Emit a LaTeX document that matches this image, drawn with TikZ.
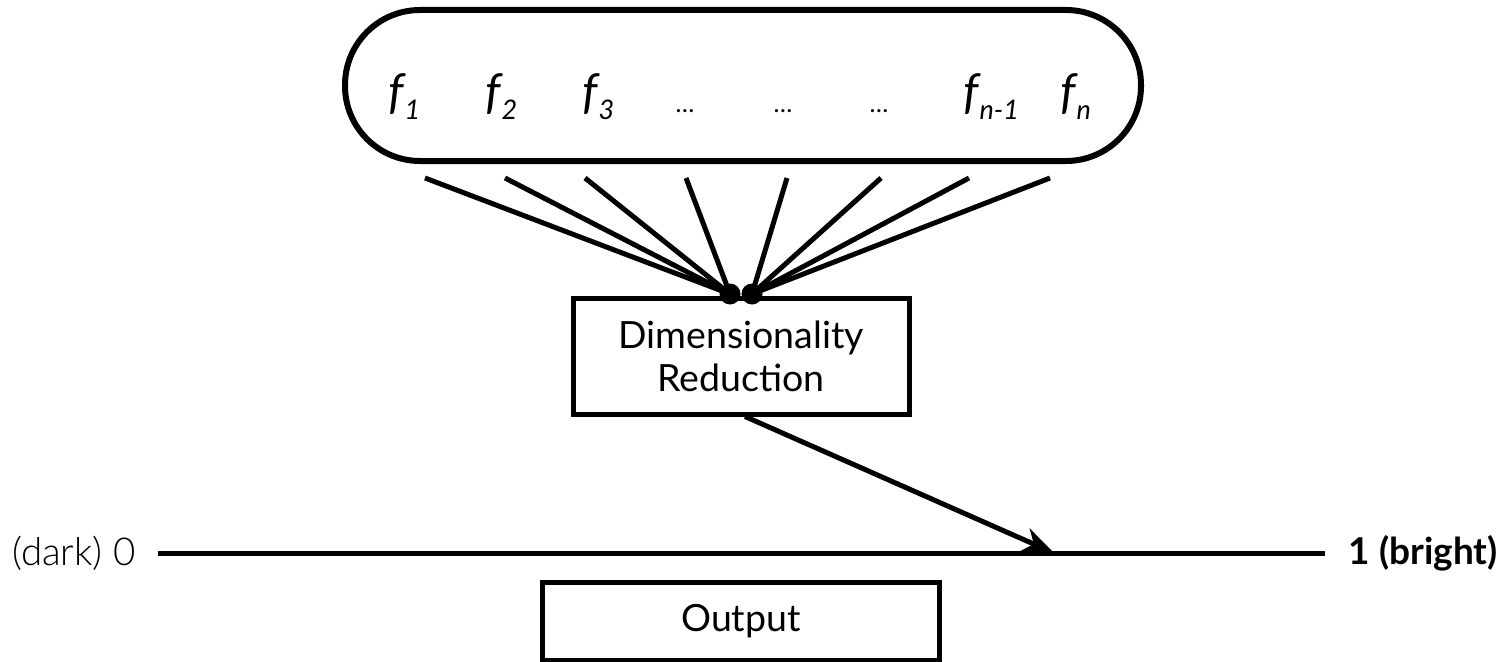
\documentclass[tikz,border=0pt]{standalone}
\usepackage{fontspec}
\setmainfont{Lato}
\newfontfamily\lightfont{Lato Light}
\usetikzlibrary{arrows.meta}
\newcommand\featlabel[2]{f\kern1pt\raisebox{-11pt}{\fontsize{27}{27}\selectfont #2}}
\tikzset{
  wire/.style={line width=5pt},
  box/.style={draw, line width=5pt, rectangle, align=center, inner sep=0pt},
  feat/.style={font=\fontsize{48}{52}\selectfont\itshape, inner sep=0pt, anchor=base west},
  gap/.style={font=\fontsize{25}{25}\selectfont, inner sep=0pt, anchor=base},
  hub/.style={circle, fill=black, inner sep=0pt, minimum size=21pt},
  label/.style={font=\fontsize{37.5}{43}\selectfont},
}
\begin{document}
\begin{tikzpicture}[x=1pt,y=-1pt]
\useasboundingbox (0,0) rectangle (1503,661);
% feature container
\draw[line width=6pt, rounded corners=75pt] (345,10) rectangle (1141,161);
\node[feat] (f1) at (388,108) {\featlabel{f}{1}};
\node[feat] (f2) at (485,108) {\featlabel{f}{2}};
\node[feat] (f3) at (582,108) {\featlabel{f}{3}};
\node[gap] (d1) at (685,112) {…};
\node[gap] (d2) at (783,112) {…};
\node[gap] (d3) at (879,112) {…};
\node[feat] (fm) at (963,108) {\featlabel{f}{n-1}};
\node[feat] (fn) at (1060,108) {\featlabel{f}{n}};
% fan-in lines
\coordinate (t1) at (425,178);
\coordinate (t2) at (505,178);
\coordinate (t3) at (585,178);
\coordinate (t4) at (686,178);
\coordinate (t5) at (787,178);
\coordinate (t6) at (881,178);
\coordinate (t7) at (969,178);
\coordinate (t8) at (1050,178);
\node[hub] (hl) at (730,294) {};
\node[hub] (hr) at (752,294) {};
\foreach \t in {t1,t2,t3,t4} \draw[wire] (\t) -- (hl.center);
\foreach \t in {t5,t6,t7,t8} \draw[wire] (\t) -- (hr.center);
% reduction block
\node[box, label, minimum width=336pt, minimum height=116pt] (dr) at (741,356) {Dimensionality\\Reduction};
% brightness axis
\node[font=\fontsize{38.5}{43}\selectfont\lightfont, anchor=west, inner sep=0pt] (lo) at (12,553) {(dark) 0};
\node[font=\fontsize{37}{43}\selectfont\bfseries, anchor=east, inner sep=0pt] (hi) at (1498,553) {1 (bright)};
\coordinate (a0) at (158,553);
\coordinate (a1) at (1325,553);
\draw[wire] (a0) -- (a1);
\coordinate (tip) at (1054,553);
\draw[wire, -{Stealth[length=32pt, width=25pt, inset=10pt]}] ([xshift=4pt]dr.south) -- (tip);
% output block
\node[box, label, minimum width=397pt, minimum height=78pt] (out) at (741,621) {Output};
\end{tikzpicture}
\end{document}
